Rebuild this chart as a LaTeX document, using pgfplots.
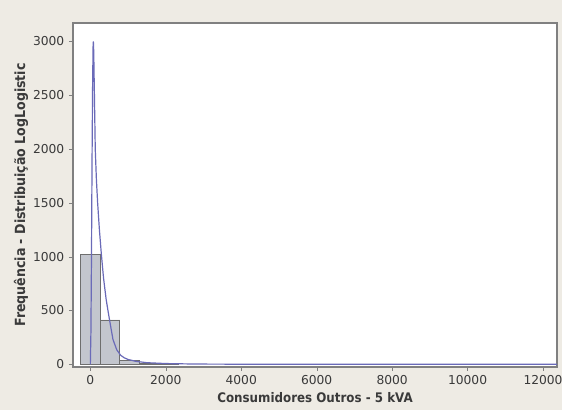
\documentclass[border=0pt]{standalone}
\usepackage{pgfplots}
\pgfplotsset{compat=1.18}
\usepackage{fontspec}
\setmainfont{DejaVu Sans}
\newfontfamily\condfont{DejaVu Sans Condensed}
\definecolor{bgcol}{HTML}{EEEBE4}
\definecolor{barfill}{HTML}{C3C6CE}
\definecolor{bardraw}{HTML}{6E6E6E}
\definecolor{curvecol}{HTML}{6A6AB8}
\definecolor{txtcol}{HTML}{3A3A3A}
\definecolor{framecol}{HTML}{808080}
\begin{document}
\begin{tikzpicture}
\useasboundingbox (0,0) rectangle (421.5pt,307.5pt);
\fill[bgcol] (0,0) rectangle (421.5pt,307.5pt);
\begin{axis}[
  at={(54.75pt,32.25pt)}, anchor=south west,
  scale only axis, width=363pt, height=258pt,
  xmin=-460, xmax=12370, ymin=-25, ymax=3172,
  axis background/.style={fill=white},
  axis line style={framecol, line width=0.8pt},
  xtick={0,2000,4000,6000,8000,10000,12000},
  ytick={0,500,1000,1500,2000,2500,3000},
  tick align=outside, tick pos=left,
  major tick length=3pt,
  tick style={framecol},
  scaled ticks=false,
  /pgf/number format/assume math mode=true,
  /pgf/number format/1000 sep={},
  ticklabel style={font=\fontsize{9.2}{10}\selectfont, text=txtcol},
  xlabel={Consumidores Outros - 5 kVA},
  ylabel={Frequência - Distribuição LogLogistic},
  every axis x label/.style={at={(axis description cs:0.5,0)}, anchor=center, yshift=-23pt, font=\condfont\bfseries\fontsize{9.9}{11}\selectfont, text=txtcol},
  every axis y label/.style={at={(axis description cs:0,0.5)}, rotate=90, anchor=center, yshift=39pt, font=\condfont\bfseries\fontsize{10.5}{12}\selectfont, text=txtcol},
]
\addplot[ybar interval, fill=barfill, draw=bardraw, line width=0.6pt] coordinates {
(-260,1025) (260,412) (780,35) (1300,12) (1820,5) (2340,5)
};
\addplot[curvecol, line width=0.9pt, mark=none] coordinates {
(0,0) (15,300) (30,1000) (45,1900) (60,2600) (72,2950) (80,3000) (90,2900)
(110,2450) (130,2000) (160,1720) (193,1500) (240,1250) (290,1030) (350,800)
(420,600) (500,430) (600,230) (700,135) (800,85) (900,60) (1000,45)
(1200,28) (1500,15) (2000,7) (2500,4) (3000,2) (4000,1) (6000,0.3) (12370,0)
};
\end{axis}
\end{tikzpicture}
\end{document}
